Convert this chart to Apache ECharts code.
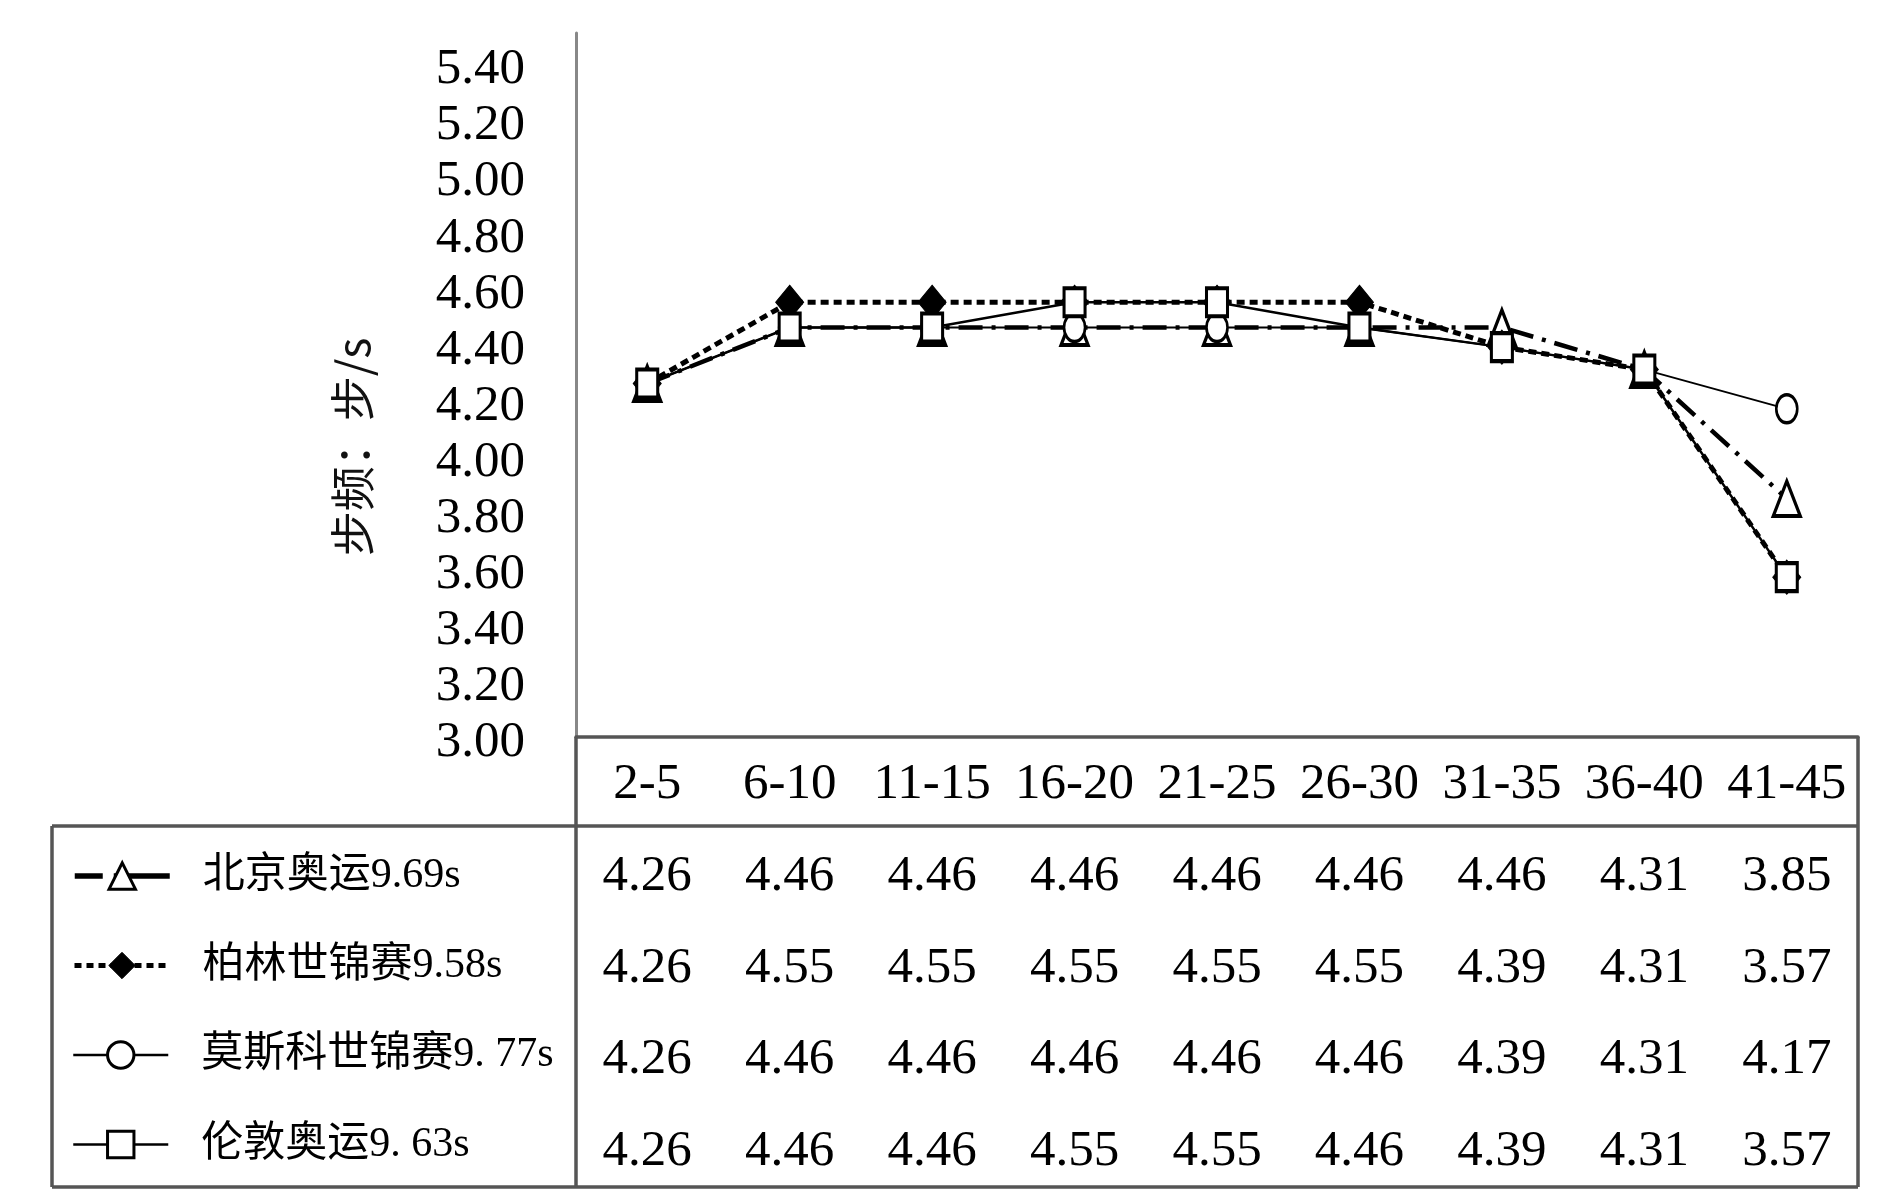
<!DOCTYPE html>
<html><head><meta charset="utf-8">
<script src="https://cdn.jsdelivr.net/npm/echarts@6/dist/echarts.min.js"></script>
<style>html,body{margin:0;padding:0;background:#fff}#c{width:1890px;height:1198px}</style>
</head><body><div id="c"></div>
<script>
// ---------- data ----------
const categories = ['2-5','6-10','11-15','16-20','21-25','26-30','31-35','36-40','41-45'];
const seriesNames = ['北京奥运9.69s','柏林世锦赛9.58s','莫斯科世锦赛9. 77s','伦敦奥运9. 63s'];
const beijing = [4.26,4.46,4.46,4.46,4.46,4.46,4.46,4.31,3.85];
const berlin  = [4.26,4.55,4.55,4.55,4.55,4.55,4.39,4.31,3.57];
const moscow  = [4.26,4.46,4.46,4.46,4.46,4.46,4.39,4.31,4.17];
const london  = [4.26,4.46,4.46,4.55,4.55,4.46,4.39,4.31,3.57];
const yAxisTitle = '步频：步/s';
const yMin = 3, yMax = 5.51, yStep = 0.2;

// ---------- layout & style ----------
const L = {gridLeft:576, gridRight:1858, gridTop:33, axisY:737, headBottom:826, tableBottom:1187, tableLeft:52};
const rowH = (L.tableBottom - L.headBottom) / 4;
const serif = "'Liberation Serif','Noto Sans CJK SC',serif";
const allData = [beijing, berlin, moscow, london];
const styles = [
  {symbol:'triangle', symbolSize:[27,35], lineStyle:{color:'#000', type:[24,9,4,9], width:4.5}, itemStyle:{color:'#fff', borderColor:'#000', borderWidth:3.5}},
  {symbol:'diamond',  symbolSize:[28,34], lineStyle:{color:'#000', type:[8,5], width:5}, itemStyle:{color:'#000', borderColor:'#000', borderWidth:1}},
  {symbol:'circle',   symbolSize:[21,28], lineStyle:{color:'#000', type:'solid', width:1.8}, itemStyle:{color:'#fff', borderColor:'#000', borderWidth:3}},
  {symbol:'rect',     symbolSize:[21,28], lineStyle:{color:'#000', type:'solid', width:2.5}, itemStyle:{color:'#fff', borderColor:'#000', borderWidth:3.5}}
];
const legendLine = [
  {color:'#000', type:[28,11,67,1], width:5.5},
  {color:'#000', type:[7,5], width:5},
  {color:'#000', type:'solid', width:2.5},
  {color:'#000', type:'solid', width:2.5}
];
const tableColor = '#555', tableW = 3.5;

const headerCenter = 785;
const xAxes = [{
  type:'category', data:categories, boundaryGap:true, position:'bottom',
  axisLine:{show:true, lineStyle:{color:tableColor, width:tableW}},
  axisTick:{show:false},
  axisLabel:{fontSize:51, fontFamily:serif, color:'#000', margin:22, interval:0}
}];
allData.forEach((arr, k) => {
  const c = L.headBottom + rowH*(k+0.5) + 6 + k*1.4;
  xAxes.push({
    type:'category', data:categories, boundaryGap:true, position:'bottom',
    offset: c - headerCenter,
    axisLine:{show:false}, axisTick:{show:false},
    axisLabel:{fontSize:51, fontFamily:serif, color:'#000', margin:22, interval:0,
      formatter:(v, i) => arr[i].toFixed(2)}
  });
});

const legends = seriesNames.map((n, k) => {
  const c = L.headBottom + 50 + k*89.5;
  return {
    data:[n], orient:'vertical', left:72, top:c - 21, padding:0, itemGap:0,
    itemWidth:95, itemHeight:33, selectedMode:false,
    lineStyle: legendLine[k],
    itemStyle:{borderWidth: k === 1 ? 1 : 3},
    textStyle:{fontSize:42, fontFamily:serif, color:'#000', padding:[0,0,0,28]}
  };
});

const line = (x1,y1,x2,y2) => ({type:'line', z:100, shape:{x1,y1,x2,y2}, style:{stroke:tableColor, lineWidth:tableW}});

const chart = echarts.init(document.getElementById('c'));
chart.setOption({
  backgroundColor:'#fff',
  animation:false,
  grid:{left:L.gridLeft, right:1890 - L.gridRight, top:L.gridTop, bottom:1198 - L.axisY, containLabel:false, outerBoundsMode:'none'},
  legend: legends,
  xAxis: xAxes,
  yAxis:{
    type:'value', min:yMin, max:yMax, interval:yStep,
    axisLine:{show:true, lineStyle:{color:'#888', width:3}},
    axisTick:{show:false}, splitLine:{show:false},
    axisLabel:{fontSize:51, fontFamily:serif, color:'#000', margin:51, showMaxLabel:false,
      verticalAlign:'top', lineHeight:12, formatter:v => v.toFixed(2)},
    name:yAxisTitle, nameLocation:'middle', nameGap:201,
    nameTextStyle:{fontSize:45, fontFamily:"'Noto Sans CJK SC',sans-serif", color:'#111', padding:[0,124,0,0]}
  },
  series: allData.map((arr, k) => Object.assign({
    name:seriesNames[k], type:'line', data:arr, xAxisIndex:0, showAllSymbol:true
  }, styles[k])),
  graphic: [
    line(L.tableLeft, L.headBottom, L.gridRight, L.headBottom),
    line(L.tableLeft, L.tableBottom, L.gridRight, L.tableBottom),
    line(L.tableLeft, L.headBottom, L.tableLeft, L.tableBottom),
    line(L.gridLeft, L.axisY, L.gridLeft, L.tableBottom),
    line(L.gridRight, L.axisY, L.gridRight, L.tableBottom)
  ]
});
</script></body></html>
